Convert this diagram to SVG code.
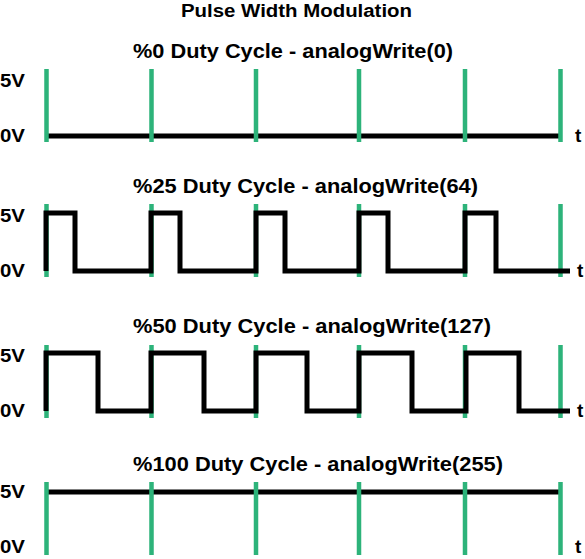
<svg xmlns="http://www.w3.org/2000/svg" width="585" height="559" viewBox="0 0 585 559">
<style>
.txt{font-family:"Liberation Sans","DejaVu Sans",Arial,sans-serif;font-weight:bold;fill:#000;}
.title{font-size:18px;}
.ptitle{font-size:20px;}
.lbl{font-size:19px;}
.grid{stroke:#2db37a;stroke-width:4.5;fill:none;}
.wave{stroke:#000;stroke-width:5;fill:none;stroke-linejoin:miter;stroke-linecap:butt;}
</style>
<rect width="585" height="559" fill="#fff"/>
<text class="txt title" x="181" y="17" textLength="231" lengthAdjust="spacingAndGlyphs">Pulse Width Modulation</text>

<g id="panel0">
<text class="txt ptitle" x="133" y="58" textLength="320" lengthAdjust="spacingAndGlyphs">%0 Duty Cycle - analogWrite(0)</text>
<text class="txt lbl" x="0" y="87" textLength="25" lengthAdjust="spacingAndGlyphs">5V</text>
<text class="txt lbl" x="0" y="142" textLength="25" lengthAdjust="spacingAndGlyphs">0V</text>
<text class="txt lbl" x="575" y="142">t</text>
<path class="wave" d="M46,136 H562"/>
<path class="grid" d="M46.5,69 V142 M151.5,69 V142 M256,69 V142 M359,69 V142 M465,69 V142 M560.5,69 V142"/>
</g>

<g id="panel25">
<text class="txt ptitle" x="133" y="193" textLength="345" lengthAdjust="spacingAndGlyphs">%25 Duty Cycle - analogWrite(64)</text>
<text class="txt lbl" x="0" y="222" textLength="25" lengthAdjust="spacingAndGlyphs">5V</text>
<text class="txt lbl" x="0" y="277" textLength="25" lengthAdjust="spacingAndGlyphs">0V</text>
<text class="txt lbl" x="577" y="277">t</text>
<path class="grid" d="M46.5,204 V277 M151.5,204 V277 M256,204 V277 M359,204 V277 M465,204 V277 M560.5,204 V277"/>
<path class="wave" d="M46,271 V213 H75 V271 H151 V213 H180 V271 H256 V213 H285 V271 H359 V213 H388 V271 H465 V213 H496 V271 H570"/>
</g>

<g id="panel50">
<text class="txt ptitle" x="133" y="333" textLength="358" lengthAdjust="spacingAndGlyphs">%50 Duty Cycle - analogWrite(127)</text>
<text class="txt lbl" x="0" y="362" textLength="25" lengthAdjust="spacingAndGlyphs">5V</text>
<text class="txt lbl" x="0" y="417" textLength="25" lengthAdjust="spacingAndGlyphs">0V</text>
<text class="txt lbl" x="577" y="417">t</text>
<path class="grid" d="M46.5,345 V418 M151.5,345 V418 M256,345 V418 M359,345 V418 M465,345 V418 M560.5,345 V418"/>
<path class="wave" d="M46,411 V353 H98 V411 H151 V353 H204 V411 H256 V353 H307 V411 H359 V353 H412 V411 H466 V353 H519 V411 H570"/>
</g>

<g id="panel100">
<text class="txt ptitle" x="133" y="471" textLength="370" lengthAdjust="spacingAndGlyphs">%100 Duty Cycle - analogWrite(255)</text>
<text class="txt lbl" x="0" y="498" textLength="25" lengthAdjust="spacingAndGlyphs">5V</text>
<text class="txt lbl" x="0" y="553" textLength="25" lengthAdjust="spacingAndGlyphs">0V</text>
<text class="txt lbl" x="575" y="553">t</text>
<path class="wave" d="M46,492 H560"/>
<path class="grid" d="M46.5,482 V555 M151.5,482 V555 M256,482 V555 M359,482 V555 M465,482 V555 M560.5,482 V555"/>
</g>
</svg>
